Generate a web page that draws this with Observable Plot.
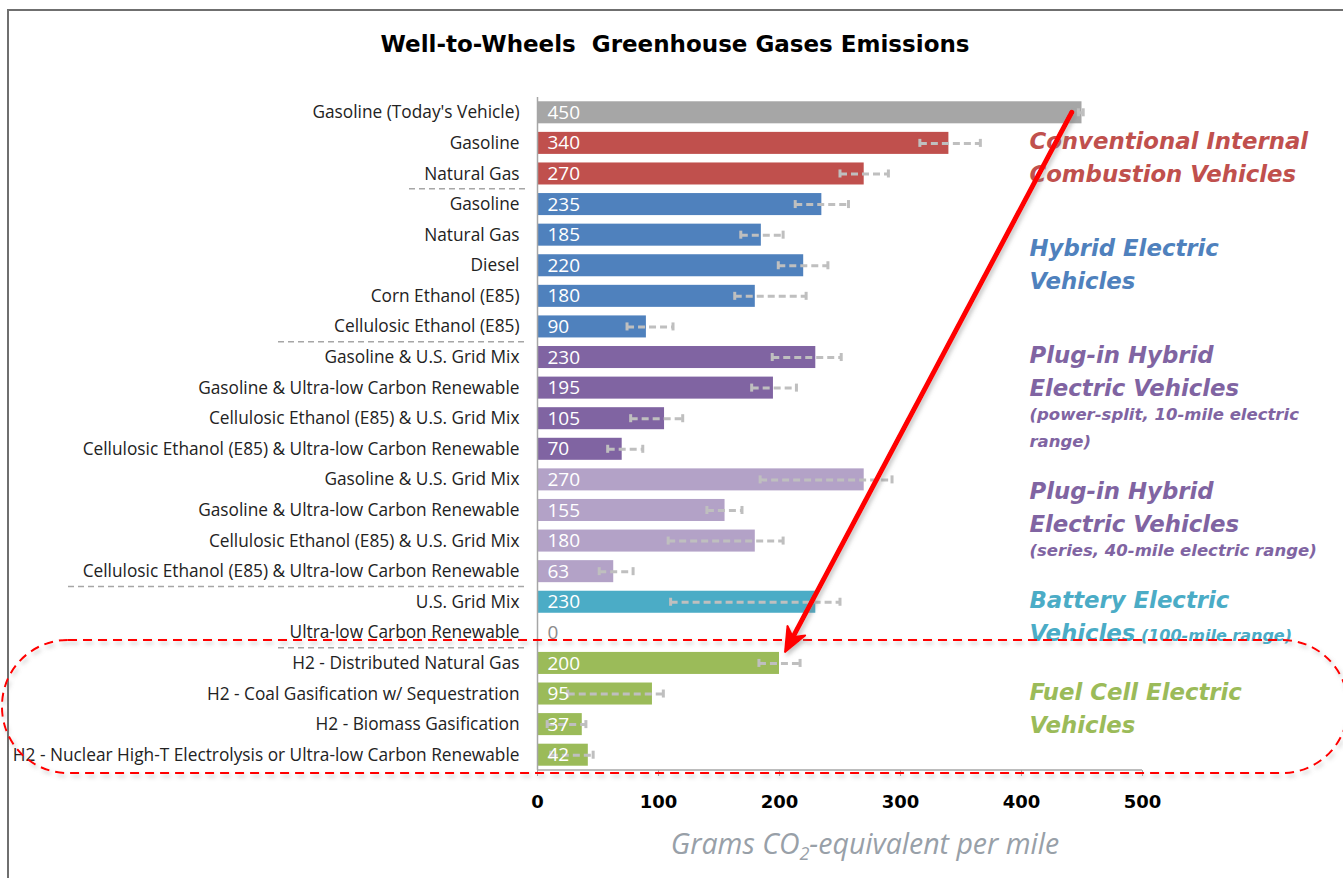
<!DOCTYPE html>
<html><head><meta charset="utf-8">
<script src="https://cdn.jsdelivr.net/npm/d3@7"></script>
<script src="https://cdn.jsdelivr.net/npm/@observablehq/plot@0.6"></script>
<style>
body{margin:0;background:#fff;}
#wrap{position:relative;width:1343px;height:878px;overflow:hidden;background:#fff;}
#frame{position:absolute;left:7px;top:9px;width:1400px;height:900px;border-top:2px solid #6f6f6f;border-left:2px solid #6f6f6f;}
#title{position:absolute;top:29px;left:0;width:1350px;text-align:center;font:bold 23px "DejaVu Sans",sans-serif;line-height:30px;color:#000;}
#xlabel{position:absolute;top:825px;left:865px;transform:translateX(-50%);white-space:nowrap;font:italic 28.5px "Open Sans",sans-serif;line-height:36px;color:#98a0a8;}
#xlabel sub{font-size:18px;vertical-align:-6px;line-height:0;}
#chart{position:absolute;left:0;top:0;}
</style></head>
<body>
<div id="wrap">
  <div id="frame"></div>
  <div id="chart"></div>
  <div id="title">Well-to-Wheels&nbsp; Greenhouse Gases Emissions</div>
  <div id="xlabel">Grams CO<sub>2</sub>-equivalent per mile</div>
</div>
<script>
// ---------- data ----------
const labels = [
  "Gasoline (Today's Vehicle)",
  "Gasoline", "Natural Gas",
  "Gasoline", "Natural Gas", "Diesel", "Corn Ethanol (E85)", "Cellulosic Ethanol (E85)",
  "Gasoline & U.S. Grid Mix", "Gasoline & Ultra-low Carbon Renewable",
  "Cellulosic Ethanol (E85) & U.S. Grid Mix", "Cellulosic Ethanol (E85) & Ultra-low Carbon Renewable",
  "Gasoline & U.S. Grid Mix", "Gasoline & Ultra-low Carbon Renewable",
  "Cellulosic Ethanol (E85) & U.S. Grid Mix", "Cellulosic Ethanol (E85) & Ultra-low Carbon Renewable",
  "U.S. Grid Mix", "Ultra-low Carbon Renewable",
  "H2 - Distributed Natural Gas", "H2 - Coal Gasification w/ Sequestration",
  "H2 - Biomass Gasification", "H2 - Nuclear High-T Electrolysis or Ultra-low Carbon Renewable"
];
const values = [450, 340, 270, 235, 185, 220, 180, 90, 230, 195, 105, 70, 270, 155, 180, 63, 230, 0, 200, 95, 37, 42];
const errLow  = [447, 316, 250, 213, 168, 199, 163, 74, 194, 177, 77, 58, 184, 140, 108, 51, 110, null, 183, 25, 8, 11];
const errHigh = [451, 366, 290, 257, 203, 240, 222, 112, 251, 214, 120, 87, 293, 169, 203, 79, 250, null, 217, 104, 40, 46];
const groups = ["today", "icev", "icev", "hev", "hev", "hev", "hev", "hev",
  "phev10", "phev10", "phev10", "phev10", "phev40", "phev40", "phev40", "phev40",
  "bev", "bev", "fcev", "fcev", "fcev", "fcev"];
const groupKeys = ["today", "icev", "hev", "phev10", "phev40", "bev", "fcev"];
const groupColors = ["#a6a6a6", "#c0504d", "#4f81bd", "#8064a2", "#b3a2c7", "#4bacc6", "#9bbb59"];
const groupTitleColors = ["#a6a6a6", "#c0504d", "#4f81bd", "#8064a2", "#8064a2", "#4bacc6", "#9bbb59"];
const groupTitles = {
  icev: ["Conventional Internal", "Combustion Vehicles"],
  hev: ["Hybrid Electric", "Vehicles"],
  phev10: ["Plug-in Hybrid", "Electric Vehicles"],
  phev40: ["Plug-in Hybrid", "Electric Vehicles"],
  bev: ["Battery Electric", "Vehicles"],
  fcev: ["Fuel Cell Electric", "Vehicles"]
};
const groupNotes = {
  phev10: ["(power-split, 10-mile electric", "range)"],
  phev40: ["(series, 40-mile electric range)"]
};
const groupInlineNotes = { bev: "(100-mile range)" };
const xTicks = [0, 100, 200, 300, 400, 500];
const separatorsAfter = [2, 7, 15, 17];
const arrowFrom = {x: 442, row: 0};
const arrowTo = {x: 205, row: 18};
const highlightRows = [18, 21];

// ---------- chart ----------
const rows = labels.map((label, i) => ({i, label, value: values[i], lo: errLow[i], hi: errHigh[i], group: groups[i]}));
const errRows = rows.filter(d => d.lo != null);

const plot = Plot.plot({
  width: 1343, height: 878,
  marginLeft: 537, marginRight: 201, marginTop: 97, marginBottom: 108,
  style: {background: "transparent", overflow: "visible"},
  x: {domain: [0, 500]},
  y: {domain: d3.range(labels.length), paddingInner: 0.28, paddingOuter: 0.14, round: false},
  color: {domain: groupKeys, range: groupColors},
  marks: [
    Plot.barX(rows, {x: "value", y: "i", fill: "group"}),
    Plot.link(errRows, {x1: "lo", x2: "hi", y1: "i", y2: "i", stroke: "#bfbfbf", strokeWidth: 3, strokeDasharray: "7,4"}),
    Plot.tickX(errRows, {x: "lo", y: "i", stroke: "#bfbfbf", strokeWidth: 3, insetTop: 7, insetBottom: 7}),
    Plot.tickX(errRows, {x: "hi", y: "i", stroke: "#bfbfbf", strokeWidth: 3, insetTop: 7, insetBottom: 7}),
    Plot.text(rows.filter(d => d.value > 0), {x: 0, y: "i", text: d => String(d.value), dx: 10, textAnchor: "start", fill: "white", fontSize: 19, fontFamily: "Open Sans"}),
    Plot.text(rows.filter(d => d.value === 0), {x: 0, y: "i", text: d => String(d.value), dx: 10, textAnchor: "start", fill: "#8c8c8c", fontSize: 19, fontFamily: "Open Sans"}),
    Plot.ruleX([0], {stroke: "#a6a6a6", strokeWidth: 1.5}),
    Plot.axisY({tickSize: 0, tickPadding: 18, tickFormat: i => labels[i], fontSize: 17.3, fontFamily: "Open Sans", fill: "#222", label: null}),
    Plot.axisX({ticks: xTicks, tickSize: 6, tickPadding: 19, stroke: "#a6a6a6", fontSize: 18, fontWeight: "bold", fontFamily: "DejaVu Sans", fill: "#000", label: null})
  ]
});
document.getElementById("chart").appendChild(plot);

// ---------- annotations (positioned through Plot's scales) ----------
const svg = d3.select(plot.tagName.toLowerCase() === "svg" ? plot : plot.querySelector("svg"));
const xs = plot.scale("x"), ys = plot.scale("y");
const X = v => xs.apply(v);
const bw = ys.bandwidth, step = ys.step;
const Yc = i => ys.apply(i) + bw / 2;
const yBottom = Yc(labels.length - 1) + step / 2;

const defs = svg.append("defs");
const f = defs.append("filter").attr("id", "shadow").attr("x", "-10%").attr("y", "-10%").attr("width", "120%").attr("height", "130%");
f.append("feDropShadow").attr("dx", 2).attr("dy", 3).attr("stdDeviation", 2).attr("flood-color", "#808080").attr("flood-opacity", 0.45);

const g = svg.append("g").attr("text-anchor", "start");
// x axis line
g.append("line").attr("x1", X(0)).attr("x2", X(500)).attr("y1", yBottom).attr("y2", yBottom)
  .attr("stroke", "#a6a6a6").attr("stroke-width", 1.5);
// group separators
const sepLen = [118, 249, 459, 249];
separatorsAfter.forEach((k, j) => {
  const y = (Yc(k) + Yc(k + 1)) / 2;
  g.append("line").attr("x1", X(0) - 10 - sepLen[j]).attr("x2", X(0) - 10).attr("y1", y).attr("y2", y)
    .attr("stroke", "#a6a6a6").attr("stroke-width", 1.5).attr("stroke-dasharray", "6,4");
});
// group titles
const lx = X(407);
groupKeys.filter(k => groupTitles[k]).forEach((k) => {
  const idx = groups.map((v, i) => v === k ? i : -1).filter(i => i >= 0);
  const center = (Yc(idx[0]) + Yc(idx[idx.length - 1])) / 2;
  const color = groupTitleColors[groupKeys.indexOf(k)];
  const lines = [];
  let pos = 0;
  groupTitles[k].forEach((t) => { lines.push({t, big: true, pos}); pos += 33; });
  pos -= 33;
  (groupNotes[k] || []).forEach((t, j) => { pos += (j === 0 ? 26 : 27); lines.push({t, big: false, pos}); });
  const mid = (lines[0].pos + lines[lines.length - 1].pos) / 2;
  lines.forEach((l, j) => {
    const t = g.append("text").attr("text-anchor", "start").attr("x", lx).attr("y", center + l.pos - mid - (groupNotes[k] ? 5 : 1)).attr("dy", "0.36em")
      .attr("fill", color).attr("font-family", "DejaVu Sans").attr("font-weight", "bold").attr("font-style", "italic")
      .attr("font-size", l.big ? 22.8 : 16.5);
    t.append("tspan").text(l.t);
    if (groupInlineNotes[k] && j === lines.length - 1) {
      t.append("tspan").attr("font-size", 16).text(" " + groupInlineNotes[k]);
    }
  });
});
// highlight dashed rounded box
const boxTop = Yc(highlightRows[0]) - 0.75 * step;
const boxBottom = Yc(highlightRows[1]) + 0.6 * step;
g.append("rect").attr("x", 2).attr("y", boxTop).attr("width", 1346).attr("height", boxBottom - boxTop)
  .attr("rx", 66).attr("ry", 66).attr("fill", "none").attr("stroke", "#ff0000").attr("stroke-width", 2)
  .attr("stroke-dasharray", "9,6").attr("filter", "url(#shadow)");
// red arrow
const ax1 = X(arrowFrom.x), ay1 = Yc(arrowFrom.row);
const ax2 = X(arrowTo.x), ay2 = Yc(arrowTo.row) - bw / 2;
const ang = Math.atan2(ay2 - ay1, ax2 - ax1);
const hl = 24, hw = 10;
const bx = ax2 - hl * Math.cos(ang), by = ay2 - hl * Math.sin(ang);
const ag = g.append("g").attr("filter", "url(#shadow)");
ag.append("line").attr("x1", ax1).attr("y1", ay1).attr("x2", ax2 - 8 * Math.cos(ang)).attr("y2", ay2 - 8 * Math.sin(ang))
  .attr("stroke", "#ff0000").attr("stroke-width", 5).attr("stroke-linecap", "round");
ag.append("path").attr("d", `M${ax2},${ay2} L${bx + hw * Math.sin(ang)},${by - hw * Math.cos(ang)} L${ax2 - 0.7 * hl * Math.cos(ang)},${ay2 - 0.7 * hl * Math.sin(ang)} L${bx - hw * Math.sin(ang)},${by + hw * Math.cos(ang)} Z`)
  .attr("fill", "#ff0000").attr("stroke", "#ff0000").attr("stroke-width", 2).attr("stroke-linejoin", "round");
</script>
</body></html>
